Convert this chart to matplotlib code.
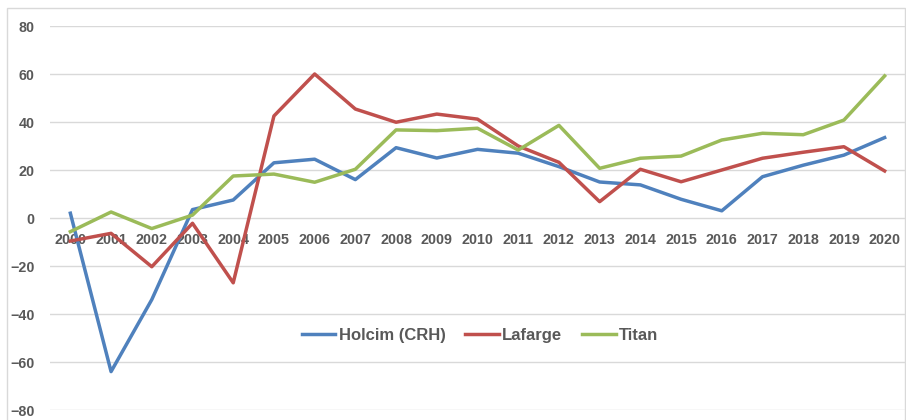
import matplotlib.pyplot as plt
import matplotlib.patches as patches

years = [str(y) for y in range(2000, 2021)]
holcim = [2, -64, -34, 3.5, 7.5, 23, 24.5, 16, 29.3, 25, 28.6, 27, 21.4, 15, 13.8, 7.8, 3, 17.2, 22, 26.2, 33.5]
lafarge = [-9.6, -6.4, -20.3, -2.2, -27, 42.5, 60, 45.4, 39.9, 43.3, 41.2, 30, 23.2, 6.8, 20.3, 15.1, 20, 24.9, 27.4, 29.7, 19.6]
titan = [-5.7, 2.5, -4.4, 1.2, 17.5, 18.3, 14.9, 20.3, 36.7, 36.4, 37.4, 28.3, 38.6, 20.7, 24.9, 25.8, 32.5, 35.3, 34.7, 40.8, 59.2]

series = [("Holcim (CRH)", holcim, "#4f81bd"),
          ("Lafarge", lafarge, "#c0504d"),
          ("Titan", titan, "#9bbb59")]

W, H = 906, 420
fig = plt.figure(figsize=(W / 100, H / 100), dpi=100)
ax = fig.add_axes([50 / W, 1 - 410 / H, 855 / W, 384 / H])

# light frame around the chart area
fig.patches.append(patches.Rectangle((7 / W, -0.01), 898 / W, 1 - 8 / H + 0.01,
                                     transform=fig.transFigure, fill=False,
                                     edgecolor="#d9d9d9", linewidth=1))

x = list(range(len(years)))
for name, vals, color in series:
    ax.plot(x, vals, color=color, linewidth=2.5, label=name, solid_joinstyle="round")

ax.set_xlim(-0.5, len(years) - 0.5)
ax.set_ylim(-80, 80)
ax.set_yticks(range(-80, 81, 20))
ax.set_xticks(x)
ax.set_xticklabels(years)

ax.grid(axis="y", color="#d9d9d9", linewidth=1)
ax.set_axisbelow(True)
for s in ax.spines.values():
    s.set_visible(False)
ax.spines["bottom"].set_position(("data", 0))

font = dict(family="Liberation Sans", weight="bold", size=10.3)
ax.tick_params(axis="both", length=0, colors="#595959")
ax.tick_params(axis="x", pad=11)
ax.tick_params(axis="y", pad=11)
for lab in ax.get_xticklabels() + ax.get_yticklabels():
    lab.set_fontproperties(font)

leg = ax.legend(loc="center", bbox_to_anchor=(0.503, 0.195), ncol=3, frameon=False,
                handlelength=2.0, handletextpad=0.2, columnspacing=1.2,
                prop=dict(family="Liberation Sans", weight="bold", size=12))
for t in leg.get_texts():
    t.set_color("#595959")

fig.savefig("out.png", dpi=100)
